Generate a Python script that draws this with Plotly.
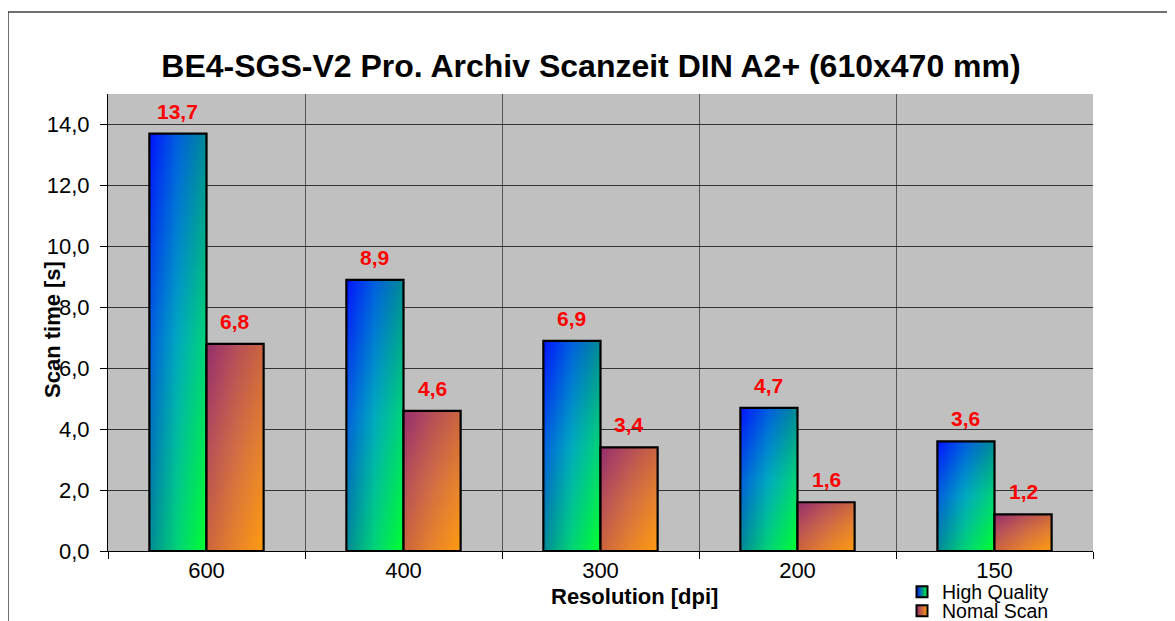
import plotly.graph_objects as go

# ---- data ----
categories = ["600", "400", "300", "200", "150"]
high_quality = [13.7, 8.9, 6.9, 4.7, 3.6]
normal_scan = [6.8, 4.6, 3.4, 1.6, 1.2]
series_names = ["High Quality", "Nomal Scan"]
y_ticks = [0, 2, 4, 6, 8, 10, 12, 14]

title_text = "BE4-SGS-V2 Pro. Archiv Scanzeit DIN A2+ (610x470 mm)"
x_title = "Resolution [dpi]"
y_title = "Scan time [s]"

# ---- style ----
FONT = "Liberation Sans, Arial, sans-serif"
BAR_W = 0.29
# gradient stops: start (top-left), middle, end (bottom-right)
HQ = ((0, 20, 255), (0, 170, 190), (0, 255, 45))
NS = ((150, 45, 110), (208, 108, 70), (255, 155, 15))

# page offset of the plot div (default body margin)
OFF = 8
FIG_W, FIG_H = 1175 - OFF, 621 - OFF
M_L, M_T, PW, PH = 100, 86, 985, 457


def px_x(page_x):
    return (page_x - OFF - M_L) / PW


def px_y(page_y):
    return (OFF + M_T + PH - page_y) / PH


def rgb(c, a=None):
    if a is None:
        return "rgb(%d,%d,%d)" % c
    return "rgba(%d,%d,%d,%.2f)" % (c + (a,))


def fmt(v):
    return ("%.1f" % v).replace(".", ",")


fig = go.Figure()
annotations = []

series = [(high_quality, HQ, -BAR_W), (normal_scan, NS, 0.0)]
for values, cols, off in series:
    c0, cm, c1 = cols
    for i, v in enumerate(values):
        x0 = i + off
        x1 = x0 + BAR_W
        xs = [x0, x1, x1, x0, x0]
        ys = [0, 0, v, v, 0]
        # horizontal gradient base layer
        fig.add_trace(go.Scatter(
            x=xs, y=ys, mode="lines", fill="toself",
            line=dict(width=0, color="rgba(0,0,0,0)"),
            fillgradient=dict(type="horizontal",
                              colorscale=[[0, rgb(c0)], [0.5, rgb(cm)],
                                          [1, rgb(c1)]]),
            showlegend=False, hoverinfo="skip"))
        # vertical gradient half-transparent layer -> diagonal look
        fig.add_trace(go.Scatter(
            x=xs, y=ys, mode="lines", fill="toself",
            line=dict(width=2.2, color="black"),
            fillgradient=dict(type="vertical",
                              colorscale=[[0, rgb(c1, 0.5)], [0.5, rgb(cm, 0.5)],
                                          [1, rgb(c0, 0.5)]]),
            showlegend=False, hoverinfo="skip"))
        annotations.append(dict(
            x=x0 + BAR_W / 2, y=v, xref="x", yref="y", text=fmt(v),
            showarrow=False, yanchor="bottom", yshift=9,
            font=dict(family=FONT, size=21, color="#FF0000", weight="bold")))

# legend swatches
for k, (name, (c0, cm, c1)) in enumerate(zip(series_names, [HQ, NS])):
    fig.add_trace(go.Scatter(
        x=[None], y=[None], mode="markers", name=name,
        legend="legend" if k == 0 else "legend2",
        marker=dict(symbol="square", size=11, color=rgb(c0),
                    gradient=dict(type="horizontal", color=rgb(c1)),
                    line=dict(color="black", width=2))))

# axis titles as annotations
annotations.append(dict(
    x=px_x(634.5), y=px_y(596), xref="paper", yref="paper",
    text=x_title, showarrow=False, xanchor="center", yanchor="middle",
    font=dict(family=FONT, size=22, color="black", weight="bold")))
annotations.append(dict(
    x=px_x(52), y=px_y(330), xref="paper", yref="paper",
    text=y_title, showarrow=False, xanchor="center", yanchor="middle",
    textangle=-90,
    font=dict(family=FONT, size=22, color="black", weight="bold")))

# outer chart border (left & top edges visible)
shapes = [
    dict(type="line", xref="paper", yref="paper",
         x0=px_x(8), x1=px_x(8), y0=-0.3, y1=px_y(12),
         line=dict(color="#404040", width=1.5)),
    dict(type="line", xref="paper", yref="paper",
         x0=px_x(8), x1=1.3, y0=px_y(12), y1=px_y(12),
         line=dict(color="#404040", width=1.5)),
]

n = len(categories)
fig.update_layout(
    width=FIG_W, height=FIG_H,
    margin=dict(l=M_L, r=FIG_W - M_L - PW, t=M_T, b=FIG_H - M_T - PH,
                autoexpand=False),
    paper_bgcolor="white", plot_bgcolor="#C0C0C0",
    separators=",.",
    title=dict(text=title_text, x=(591 - OFF) / FIG_W, xref="container",
               xanchor="center",
               y=1 - (66 - OFF) / FIG_H, yref="container", yanchor="middle",
               font=dict(family=FONT, size=32, color="black", weight="bold")),
    xaxis=dict(
        type="linear", range=[-0.5, n - 0.5], automargin=False,
        tickmode="array", tickvals=list(range(n)), ticktext=categories,
        ticks="", showgrid=False, zeroline=False,
        showline=True, linecolor="black", linewidth=1,
        tickfont=dict(family=FONT, size=22, color="black"),
        ticklabelstandoff=0,
        minor=dict(tickmode="array", tickvals=[i - 0.5 for i in range(n + 1)],
                   ticks="outside", ticklen=7, tickcolor="black", tickwidth=1,
                   showgrid=True, gridcolor="#555555", gridwidth=1),
    ),
    yaxis=dict(
        range=[0, 15], tickmode="array", tickvals=y_ticks, tickformat=".1f",
        automargin=False,
        ticks="outside", ticklen=7, tickcolor="black",
        showgrid=True, gridcolor="#333333", gridwidth=1, zeroline=False,
        showline=True, linecolor="black", linewidth=1,
        tickfont=dict(family=FONT, size=22, color="black"),
        ticklabelstandoff=6,
    ),
    legend=dict(x=px_x(902), y=px_y(592), xanchor="left",
                yanchor="middle", bgcolor="rgba(0,0,0,0)", itemwidth=30,
                font=dict(family=FONT, size=19.5, color="black")),
    legend2=dict(x=px_x(902), y=px_y(611), xanchor="left",
                 yanchor="middle", bgcolor="rgba(0,0,0,0)", itemwidth=30,
                 font=dict(family=FONT, size=19.5, color="black")),
    annotations=annotations,
    shapes=shapes,
)

fig.write_html("out.html")
